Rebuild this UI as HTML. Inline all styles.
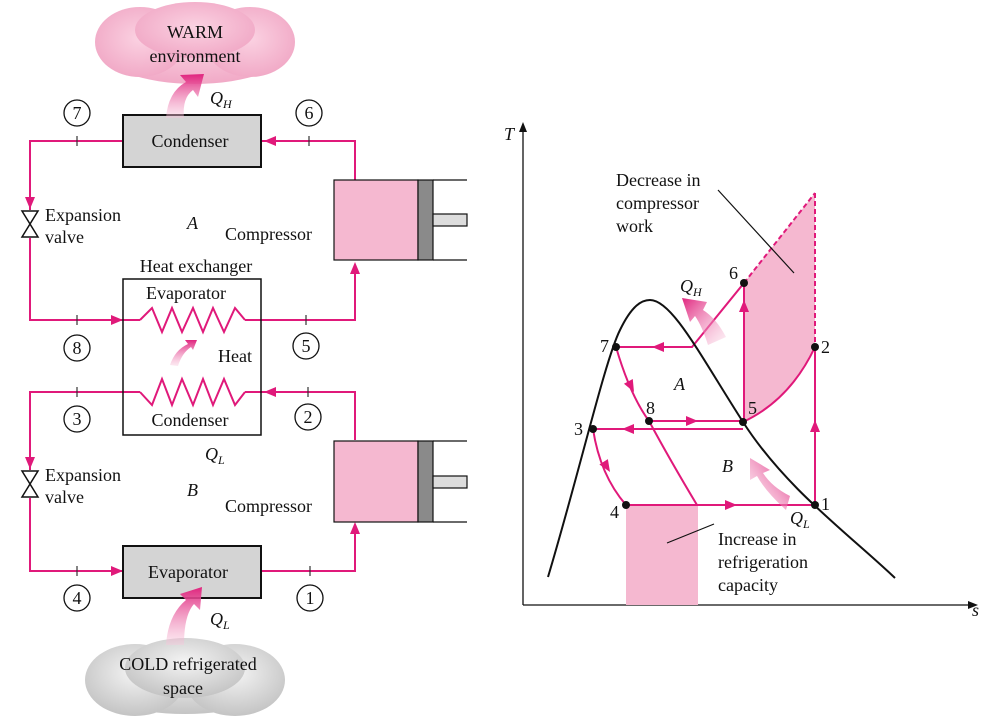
<!DOCTYPE html>
<html><head><meta charset="utf-8"><style>
html,body{margin:0;padding:0;background:#fff}
svg{display:block}
text{font-family:"Liberation Serif",serif;font-size:18px;fill:#111}
.it{font-style:italic}
</style></head><body>
<svg width="1000" height="723" viewBox="0 0 1000 723" xmlns="http://www.w3.org/2000/svg">
<defs>
<radialGradient id="warm" cx="50%" cy="45%" r="60%"><stop offset="0" stop-color="#fbd2e2"/><stop offset="1" stop-color="#f0a6c4"/></radialGradient>
<radialGradient id="cold" cx="50%" cy="40%" r="60%"><stop offset="0" stop-color="#f4f4f4"/><stop offset="1" stop-color="#c4c4c4"/></radialGradient>
<linearGradient id="fa" x1="0" y1="1" x2="0" y2="0"><stop offset="0" stop-color="#f8c8dc" stop-opacity="0.4"/><stop offset="1" stop-color="#e0247e"/></linearGradient>
<linearGradient id="fa2" x1="1" y1="1" x2="0" y2="0"><stop offset="0" stop-color="#f8c8dc" stop-opacity="0.3"/><stop offset="1" stop-color="#e0247e"/></linearGradient>
<linearGradient id="fa3" x1="0" y1="1" x2="1" y2="0"><stop offset="0" stop-color="#f8c8dc" stop-opacity="0.3"/><stop offset="1" stop-color="#e0247e"/></linearGradient>
</defs>
<g fill="none" stroke="#e0197a" stroke-width="2">
<path d="M123,141 H30 V210"/>
<path d="M30,238 V320 H140"/>
<path d="M245,320 H355 V265"/>
<path d="M355,180 V141 H261"/>
<path d="M140,320 L152,308 L162,332 L172,308 L182,332 L193,308 L203,332 L213,308 L224,332 L235,308 L245,320"/>
<path d="M140,392 H30 V470"/>
<path d="M30,498 V571 H123"/>
<path d="M261,571 H355 V525"/>
<path d="M355,440 V392 H245"/>
<path d="M140,392 L152,405 L162,379 L172,405 L182,379 L193,405 L203,379 L213,405 L224,379 L235,405 L245,392"/>
</g>
<g fill="#e0197a">
<path d="M30,209 l-5,-12 h10z"/><path d="M123,320 l-12,-5 v10z"/><path d="M355,262 l-5,12 h10z"/><path d="M264,141 l12,-5 v10z"/>
<path d="M30,469 l-5,-12 h10z"/><path d="M123,571 l-12,-5 v10z"/><path d="M355,522 l-5,12 h10z"/><path d="M264,392 l12,-5 v10z"/>
</g>
<g stroke="#333" stroke-width="1.2"><line x1="77" y1="136" x2="77" y2="146"/><line x1="309" y1="136" x2="309" y2="146"/><line x1="77" y1="315" x2="77" y2="325"/><line x1="306" y1="315" x2="306" y2="325"/><line x1="77" y1="387" x2="77" y2="397"/><line x1="308" y1="387" x2="308" y2="397"/><line x1="77" y1="566" x2="77" y2="576"/><line x1="310" y1="566" x2="310" y2="576"/></g>
<g fill="#fff" stroke="#111" stroke-width="1.5"><path d="M22,211 H38 L22,237 H38 Z"/><path d="M22,471 H38 L22,497 H38 Z"/></g>
<rect x="123" y="115" width="138" height="52" fill="#d4d4d4" stroke="#111" stroke-width="2"/>
<rect x="123" y="546" width="138" height="52" fill="#d4d4d4" stroke="#111" stroke-width="2"/>
<rect x="123" y="279" width="138" height="156" fill="none" stroke="#111" stroke-width="1.5"/>
<g stroke="#111" stroke-width="1.2">
<rect x="334" y="180" width="84" height="80" fill="#f5b8d0"/><rect x="418" y="180" width="15" height="80" fill="#8a8a8a"/><line x1="433" y1="180" x2="467" y2="180"/><line x1="433" y1="260" x2="467" y2="260"/><rect x="433" y="214" width="34" height="12" fill="#ddd"/>
<rect x="334" y="441" width="84" height="81" fill="#f5b8d0"/><rect x="418" y="441" width="15" height="81" fill="#8a8a8a"/><line x1="433" y1="441" x2="467" y2="441"/><line x1="433" y1="522" x2="467" y2="522"/><rect x="433" y="476" width="34" height="12" fill="#ddd"/>
</g>
<g fill="url(#warm)"><ellipse cx="195" cy="48" rx="95" ry="36"/><ellipse cx="140" cy="42" rx="45" ry="35"/><ellipse cx="250" cy="42" rx="45" ry="35"/><ellipse cx="195" cy="30" rx="60" ry="28"/></g>
<g fill="url(#cold)"><ellipse cx="185" cy="680" rx="98" ry="34"/><ellipse cx="135" cy="680" rx="50" ry="36"/><ellipse cx="235" cy="680" rx="50" ry="36"/><ellipse cx="185" cy="668" rx="60" ry="30"/></g>
<path d="M166,118 Q168,92 186,82 L180,75 L204,74 L198,97 L193,90 Q182,98 184,118 Z" fill="url(#fa)"/>
<path d="M166,645 Q168,615 186,600 L180,594 L202,587 L200,610 L194,604 Q184,615 184,645 Z" fill="url(#fa)"/>
<path d="M170,365 Q175,350 188,344 L185,340 L197,340 L193,350 L191,347 Q182,353 178,366 Z" fill="url(#fa)"/>
<g fill="#fff" stroke="#111" stroke-width="1.3"><circle cx="77" cy="113" r="13"/><circle cx="309" cy="113" r="13"/><circle cx="77" cy="348" r="13"/><circle cx="306" cy="346" r="13"/><circle cx="77" cy="419" r="13"/><circle cx="308" cy="417" r="13"/><circle cx="77" cy="598" r="13"/><circle cx="310" cy="598" r="13"/></g>
<g text-anchor="middle" font-size="16"><text x="77" y="119" font-size="16">7</text><text x="309" y="119" font-size="16">6</text><text x="77" y="354" font-size="16">8</text><text x="306" y="352" font-size="16">5</text><text x="77" y="425" font-size="16">3</text><text x="308" y="423" font-size="16">2</text><text x="77" y="604" font-size="16">4</text><text x="310" y="604" font-size="16">1</text></g>
<g text-anchor="middle">
<text x="195" y="38">WARM</text><text x="195" y="62">environment</text>
<text x="190" y="147">Condenser</text><text x="188" y="578">Evaporator</text>
<text x="196" y="272">Heat exchanger</text><text x="186" y="299">Evaporator</text><text x="190" y="426">Condenser</text>
<text x="188" y="670">COLD refrigerated</text><text x="183" y="694">space</text>
</g>
<text x="45" y="221">Expansion</text><text x="45" y="243">valve</text>
<text x="45" y="481">Expansion</text><text x="45" y="503">valve</text>
<text x="225" y="240">Compressor</text><text x="225" y="512">Compressor</text>
<text x="218" y="362">Heat</text>
<text x="187" y="229" class="it">A</text><text x="187" y="496" class="it">B</text>
<text x="210" y="104" class="it">Q<tspan font-size="12" dy="4">H</tspan></text>
<text x="205" y="460" class="it">Q<tspan font-size="12" dy="4">L</tspan></text>
<text x="210" y="625" class="it">Q<tspan font-size="12" dy="4">L</tspan></text>

<g stroke="#111" stroke-width="1.3" fill="none"><path d="M523,605 V128"/><path d="M523,605 H972"/></g>
<path d="M523,122 l-4,10 h8z M978,605 l-10,-4 v8z" fill="#111"/>
<text x="504" y="140" class="it">T</text><text x="972" y="616" class="it">s</text>
<path d="M744,283 L815,193 V347 Q790,400 743,422 Z" fill="#f5b8d0"/>
<rect x="626" y="505" width="72" height="100" fill="#f5b8d0"/>
<g fill="none" stroke="#e0197a" stroke-width="2">
<path d="M744,283 L815,193 M815,193 V347" stroke-dasharray="5,3"/>
<path d="M616,347 H692 L744,283 V422"/>
<path d="M743,422 Q790,400 815,347 V505 H626"/>
<path d="M616,347 Q630,395 649,421 H743"/>
<path d="M743,429 H593 Q600,475 626,505"/>
<path d="M649,421 Q670,460 697,505"/>
</g>
<g fill="#e0197a"><path d="M652,347 l12,-5 v10z"/><path d="M744,300 l-5,12 h10z"/><path d="M815,420 l-5,12 h10z"/><path d="M698,421 l-12,-5 v10z"/><path d="M622,429 l12,-5 v10z"/><path d="M737,505 l-12,-5 v10z"/>
<path d="M0,0 l-12,-5 v10z" transform="translate(634,392) rotate(62)"/>
<path d="M0,0 l-12,-5 v10z" transform="translate(610,472) rotate(58)"/></g>
<path d="M548,577 C580,470 605,360 620,330 C632,305 642,300 650,300 C672,300 700,355 743,422 S850,535 895,578" fill="none" stroke="#111" stroke-width="2"/>
<g fill="#111"><circle cx="744" cy="283" r="4"/><circle cx="815" cy="347" r="4"/><circle cx="616" cy="347" r="4"/><circle cx="649" cy="421" r="4"/><circle cx="743" cy="422" r="4"/><circle cx="593" cy="429" r="4"/><circle cx="626" cy="505" r="4"/><circle cx="815" cy="505" r="4"/></g>
<path d="M726,337 Q716,318 703,310 L707,302 L682,298 L690,322 L695,316 Q702,326 708,345 Z" fill="url(#fa2)"/>
<path d="M786,510 Q766,492 757,476 L750,480 L750,458 L770,470 L763,473 Q772,487 790,496 Z" fill="url(#fa3)"/>
<g stroke="#111" stroke-width="1.2"><line x1="718" y1="190" x2="794" y2="273"/><line x1="667" y1="543" x2="714" y2="524"/></g>
<text x="616" y="186">Decrease in</text><text x="616" y="209">compressor</text><text x="616" y="232">work</text>
<text x="718" y="545">Increase in</text><text x="718" y="568">refrigeration</text><text x="718" y="591">capacity</text>
<text x="729" y="279">6</text><text x="821" y="353">2</text><text x="600" y="352">7</text><text x="646" y="414">8</text><text x="748" y="414">5</text><text x="574" y="435">3</text><text x="610" y="518">4</text><text x="821" y="510">1</text>
<text x="674" y="390" class="it">A</text><text x="722" y="472" class="it">B</text>
<text x="680" y="292" class="it">Q<tspan font-size="12" dy="4">H</tspan></text>
<text x="790" y="524" class="it">Q<tspan font-size="12" dy="4">L</tspan></text>
</svg>
</body></html>
